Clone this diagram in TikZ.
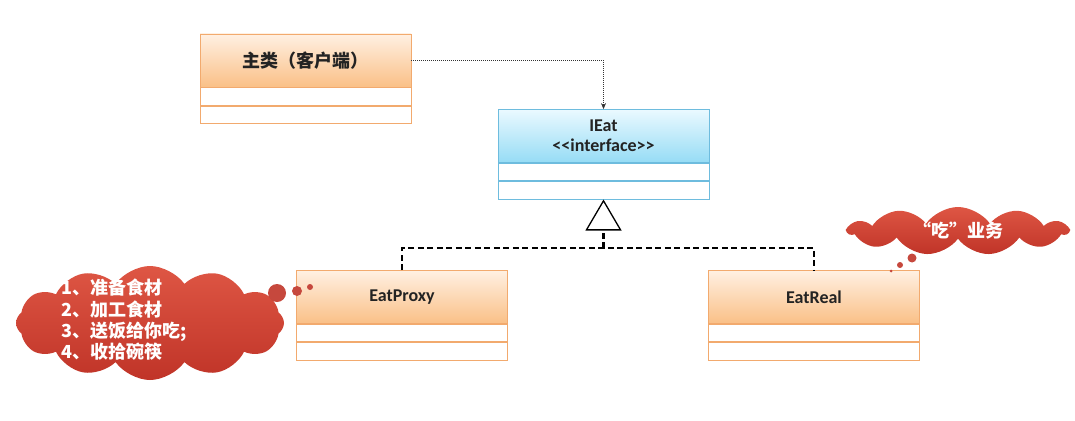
\documentclass[tikz,border=0pt]{standalone}
\usepackage{fontspec}
\setmainfont{Carlito}
\newfontfamily\cjk{Noto Sans CJK SC}
\usetikzlibrary{arrows.meta, positioning, shapes.symbols}
\definecolor{laranja}{RGB}{250,192,135}
\definecolor{laranjaclaro}{RGB}{255,240,226}
\definecolor{bordalaranja}{RGB}{242,170,110}
\definecolor{ciano}{RGB}{150,220,245}
\definecolor{cianoclaro}{RGB}{234,249,255}
\definecolor{bordaciano}{RGB}{110,188,222}
\definecolor{vermelho}{RGB}{192,52,40}
\definecolor{vermelhoclaro}{RGB}{222,86,68}
\definecolor{texto}{RGB}{35,35,35}

\begin{document}
\begin{tikzpicture}[
    x=1pt, y=-1pt,
    classe/.style={
        draw=bordalaranja,
        line width=0.8pt,
        top color=laranjaclaro,
        bottom color=laranja,
        minimum width=211pt,
        minimum height=53pt,
        inner sep=0pt,
        align=center,
        text=texto,
        font=\bfseries\fontsize{18}{20}\selectfont
    },
    classeI/.style={
        classe,
        draw=bordaciano,
        top color=cianoclaro,
        bottom color=ciano
    },
    linha/.style={
        draw=bordalaranja,
        line width=0.8pt,
        fill=white,
        minimum width=211pt,
        minimum height=17.5pt,
        inner sep=0pt
    },
    linhaI/.style={
        linha,
        draw=bordaciano
    },
    nuvem/.style={
        cloud,
        cloud puffs=12,
        cloud puff arc=110,
        top color=vermelhoclaro,
        bottom color=vermelho,
        draw=none,
        inner sep=0pt,
        text=white,
        font=\cjk\bfseries\fontsize{18}{21.3}\selectfont
    },
    bolha/.style={
        fill=vermelho!90!white
    },
    usa/.style={
        -{Stealth[length=6pt, width=5pt]},
        draw=black!80,
        line width=0.7pt,
        dash pattern=on 1pt off 1pt
    },
    realiza/.style={
        line width=2.2pt,
        dash pattern=on 6pt off 3.5pt
    }
]

\useasboundingbox (0,0) rectangle (1075,420);

% =================================================
% CLIENTE
% =================================================

\node[classe] (cliente) at (305.5,60.5)
{\cjk 主类（客户端）};

\node[linha, below=0pt of cliente] (cliente1) {};
\node[linha, below=0pt of cliente1] (cliente2) {};

% =================================================
% INTERFACE
% =================================================

\node[classeI] (ieat) at (603.5,136)
{IEat\\<\kern0pt<interface>\kern0pt>};

\node[linhaI, below=0pt of ieat] (ieat1) {};
\node[linhaI, below=0pt of ieat1] (ieat2) {};

% =================================================
% PROXY E REAL
% =================================================

\node[classe] (proxy) at (402,297)
{EatProxy};

\node[linha, below=0pt of proxy] (proxy1) {};
\node[linha, below=0pt of proxy1] (proxy2) {};

\node[classe] (real) at (814,297)
{EatReal};

\node[linha, below=0pt of real] (real1) {};
\node[linha, below=0pt of real1] (real2) {};

% =================================================
% LIGACOES
% =================================================

\coordinate (juncao) at (603.5,248);

\draw[usa] (cliente.east) -| (ieat.north);

\draw[realiza] (proxy.north) |- (juncao) -| (real.north);
\draw[realiza, -{Triangle[open, length=31pt, width=36pt, line width=1.3pt]}]
    (juncao) -- (ieat2.south);

% =================================================
% NUVENS
% =================================================

\node[nuvem, aspect=2.4, minimum width=268pt, minimum height=114pt] (nuvem1) at (150,323) {};

\node[
    text=white, inner sep=0pt, align=left, anchor=west,
    font=\cjk\bfseries\fontsize{18}{21.3}\selectfont
] (tarefas) at (61,320)
{1、准备食材\\2、加工食材\\3、送饭给你吃;\\4、收拾碗筷};

\fill[bolha] (277,293) circle (9pt);
\fill[bolha] (297,291) circle (5pt);
\fill[bolha] (310,287) circle (3pt);

\node[nuvem, aspect=4.5, cloud puffs=11, minimum width=220pt, minimum height=48pt] (nuvem2) at (958,231)
{“吃”业务};

\fill[bolha] (912,258) circle (4.5pt);
\fill[bolha] (900,265) circle (3pt);
\fill[bolha] (891,271) circle (1.5pt);

\end{tikzpicture}
\end{document}
